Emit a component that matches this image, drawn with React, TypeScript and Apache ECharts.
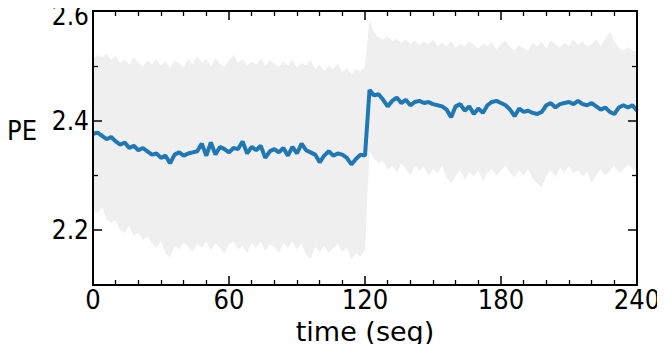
import React, { useEffect, useRef } from "react";
import * as echarts from "echarts";

const timeStep = 2;
const meanPE = [
  2.376, 2.378, 2.372, 2.366, 2.370, 2.362, 2.356, 2.360, 2.350, 2.354,
  2.346, 2.350, 2.344, 2.338, 2.340, 2.332, 2.336, 2.322, 2.338, 2.342,
  2.336, 2.340, 2.342, 2.344, 2.358, 2.336, 2.360, 2.338, 2.352, 2.348,
  2.342, 2.350, 2.348, 2.362, 2.340, 2.352, 2.346, 2.354, 2.332, 2.344,
  2.348, 2.342, 2.350, 2.336, 2.352, 2.340, 2.358, 2.346, 2.342, 2.338,
  2.324, 2.336, 2.344, 2.336, 2.340, 2.338, 2.332, 2.320, 2.330, 2.338,
  2.336, 2.456, 2.446, 2.448, 2.438, 2.426, 2.436, 2.442, 2.432, 2.438,
  2.428, 2.434, 2.436, 2.432, 2.434, 2.430, 2.428, 2.426, 2.420, 2.406,
  2.426, 2.430, 2.418, 2.426, 2.412, 2.422, 2.414, 2.428, 2.434, 2.436,
  2.432, 2.428, 2.420, 2.408, 2.422, 2.416, 2.418, 2.414, 2.412, 2.416,
  2.428, 2.432, 2.424, 2.430, 2.432, 2.434, 2.430, 2.436, 2.430, 2.428,
  2.432, 2.426, 2.420, 2.424, 2.416, 2.412, 2.424, 2.428, 2.424, 2.428,
  2.418,
];
const upperPE = [
  2.512, 2.520, 2.516, 2.522, 2.510, 2.518, 2.505, 2.512, 2.502, 2.515,
  2.506, 2.498, 2.510, 2.503, 2.512, 2.500, 2.508, 2.496, 2.510, 2.504,
  2.498, 2.512, 2.503, 2.518, 2.506, 2.512, 2.500, 2.514, 2.504, 2.498,
  2.510, 2.520, 2.506, 2.512, 2.500, 2.508, 2.502, 2.514, 2.500, 2.510,
  2.504, 2.498, 2.508, 2.500, 2.512, 2.496, 2.506, 2.500, 2.510, 2.494,
  2.502, 2.490, 2.500, 2.494, 2.504, 2.488, 2.496, 2.484, 2.494, 2.490,
  2.498, 2.585, 2.560, 2.552, 2.548, 2.554, 2.545, 2.550, 2.542, 2.548,
  2.540, 2.546, 2.538, 2.544, 2.540, 2.548, 2.536, 2.542, 2.535, 2.545,
  2.532, 2.540, 2.535, 2.544, 2.538, 2.532, 2.540, 2.536, 2.544, 2.530,
  2.540, 2.546, 2.534, 2.528, 2.538, 2.532, 2.528, 2.542, 2.535, 2.544,
  2.530, 2.546, 2.540, 2.534, 2.542, 2.536, 2.548, 2.538, 2.544, 2.535,
  2.540, 2.548, 2.536, 2.550, 2.562, 2.545, 2.532, 2.528, 2.534, 2.528,
  2.526,
];
const lowerPE = [
  2.236, 2.232, 2.242, 2.220, 2.214, 2.218, 2.200, 2.195, 2.208, 2.190,
  2.196, 2.182, 2.188, 2.176, 2.168, 2.180, 2.158, 2.150, 2.172, 2.165,
  2.178, 2.170, 2.160, 2.175, 2.168, 2.180, 2.162, 2.176, 2.168, 2.158,
  2.174, 2.180, 2.165, 2.172, 2.158, 2.176, 2.168, 2.180, 2.162, 2.174,
  2.170, 2.158, 2.176, 2.168, 2.180, 2.165, 2.176, 2.155, 2.148, 2.170,
  2.160, 2.172, 2.158, 2.168, 2.175, 2.160, 2.170, 2.145, 2.158, 2.152,
  2.165, 2.345, 2.330, 2.322, 2.326, 2.310, 2.318, 2.305, 2.322, 2.312,
  2.300, 2.318, 2.308, 2.316, 2.300, 2.312, 2.304, 2.318, 2.296, 2.285,
  2.300, 2.310, 2.292, 2.306, 2.298, 2.310, 2.290, 2.305, 2.312, 2.300,
  2.310, 2.318, 2.305, 2.296, 2.310, 2.300, 2.312, 2.294, 2.285, 2.278,
  2.300, 2.310, 2.296, 2.314, 2.305, 2.318, 2.304, 2.310, 2.298, 2.306,
  2.285, 2.300, 2.312, 2.300, 2.308, 2.318, 2.305, 2.310, 2.320, 2.312,
  2.310,
];
const xTicks = [0, 60, 120, 180, 240];
const yMajorTicks = [2.2, 2.4, 2.6];
const yAxisLabels = [2.2, 2.4];
const yTopLabel = "2.6";
const yMinorTicks = [2.3, 2.5];

const FONT = "DejaVu Sans";
const FONT_C = "'DejaVu Sans Condensed', 'DejaVu Sans'";

export default function App() {
  const ref = useRef<HTMLDivElement>(null);
  useEffect(() => {
    if (!ref.current) return;
    const chart = echarts.init(ref.current, null, { renderer: "svg" });
    const t = meanPE.map((_, i) => i * timeStep);
    const lowerData = lowerPE.map((v, i) => [t[i], v]);
    const upperData = upperPE.map((v, i) => [t[i], v]);
    const meanData = meanPE.map((v, i) => [t[i], v]);

    const axisLine = { show: true, lineStyle: { color: "#000", width: 2 } };
    const xCommon = {
      type: "value" as const,
      min: 0,
      max: 240,
      interval: 60,
      z: 10,
      splitLine: { show: false },
      axisLine,
      axisTick: { show: true, inside: true, length: 9, lineStyle: { color: "#000", width: 1.5 } },
      minorTick: { show: true, splitNumber: 6, length: 5, lineStyle: { color: "#000", width: 1.3 } },
      minorSplitLine: { show: false },
    };
    const yBase = {
      type: "value" as const,
      min: 2.1,
      max: 2.6,
      z: 10,
      splitLine: { show: false },
    };
    const yMajor = (position: "left" | "right", showLabel: boolean) => ({
      ...yBase,
      position,
      axisLine,
      axisTick: {
        show: true,
        inside: true,
        length: 9,
        customValues: yMajorTicks,
        lineStyle: { color: "#000", width: 1.5 },
      },
      axisLabel: {
        show: showLabel,
        customValues: yAxisLabels,
        formatter: (v: number) => v.toFixed(1),
        color: "#000",
        fontFamily: FONT_C,
        fontSize: 26,
        margin: 4,
      },
    });
    const yMinor = (position: "left" | "right") => ({
      ...yBase,
      position,
      axisLine: { show: false },
      axisLabel: { show: false },
      axisTick: {
        show: true,
        inside: true,
        length: 5,
        customValues: yMinorTicks,
        lineStyle: { color: "#000", width: 1.3 },
      },
    });

    chart.setOption({
      animation: false,
      backgroundColor: "#fff",
      grid: { left: 93, right: 28, top: 11, bottom: 67, containLabel: false },
      xAxis: [
        {
          ...xCommon,
          position: "bottom",
          name: "time (seg)",
          nameLocation: "middle",
          nameGap: 31,
          nameTextStyle: { color: "#000", fontFamily: FONT, fontSize: 27 },
          axisLabel: {
            customValues: xTicks,
            color: "#000",
            fontFamily: FONT_C,
            fontSize: 27,
            margin: 1,
          },
        },
        {
          ...xCommon,
          position: "top",
          axisLabel: { show: false },
        },
      ],
      yAxis: [yMajor("left", true), yMinor("left"), yMajor("right", false), yMinor("right")],
      graphic: [
        {
          type: "text",
          left: 7,
          top: 117,
          style: { text: "PE", fill: "#000", font: `27px ${FONT_C}` },
        },
        {
          type: "text",
          right: 665 - 89,
          top: 3,
          style: { text: yTopLabel, fill: "#000", font: `26px ${FONT_C}` },
        },
      ],
      series: [
        {
          type: "line",
          data: upperData,
          symbol: "none",
          lineStyle: { width: 0, opacity: 0 },
          areaStyle: { color: "#efefef", opacity: 1, origin: "start" },
          silent: true,
          z: 1,
        },
        {
          type: "line",
          data: lowerData,
          symbol: "none",
          lineStyle: { width: 0, opacity: 0 },
          areaStyle: { color: "#ffffff", opacity: 1, origin: "start" },
          silent: true,
          z: 2,
        },
        {
          type: "line",
          data: meanData,
          symbol: "none",
          lineStyle: { color: "#1f77b4", width: 4 },
          z: 3,
        },
      ],
    });
    return () => chart.dispose();
  }, []);
  return <div ref={ref} style={{ width: 665, height: 352, margin: -8 }} />;
}
